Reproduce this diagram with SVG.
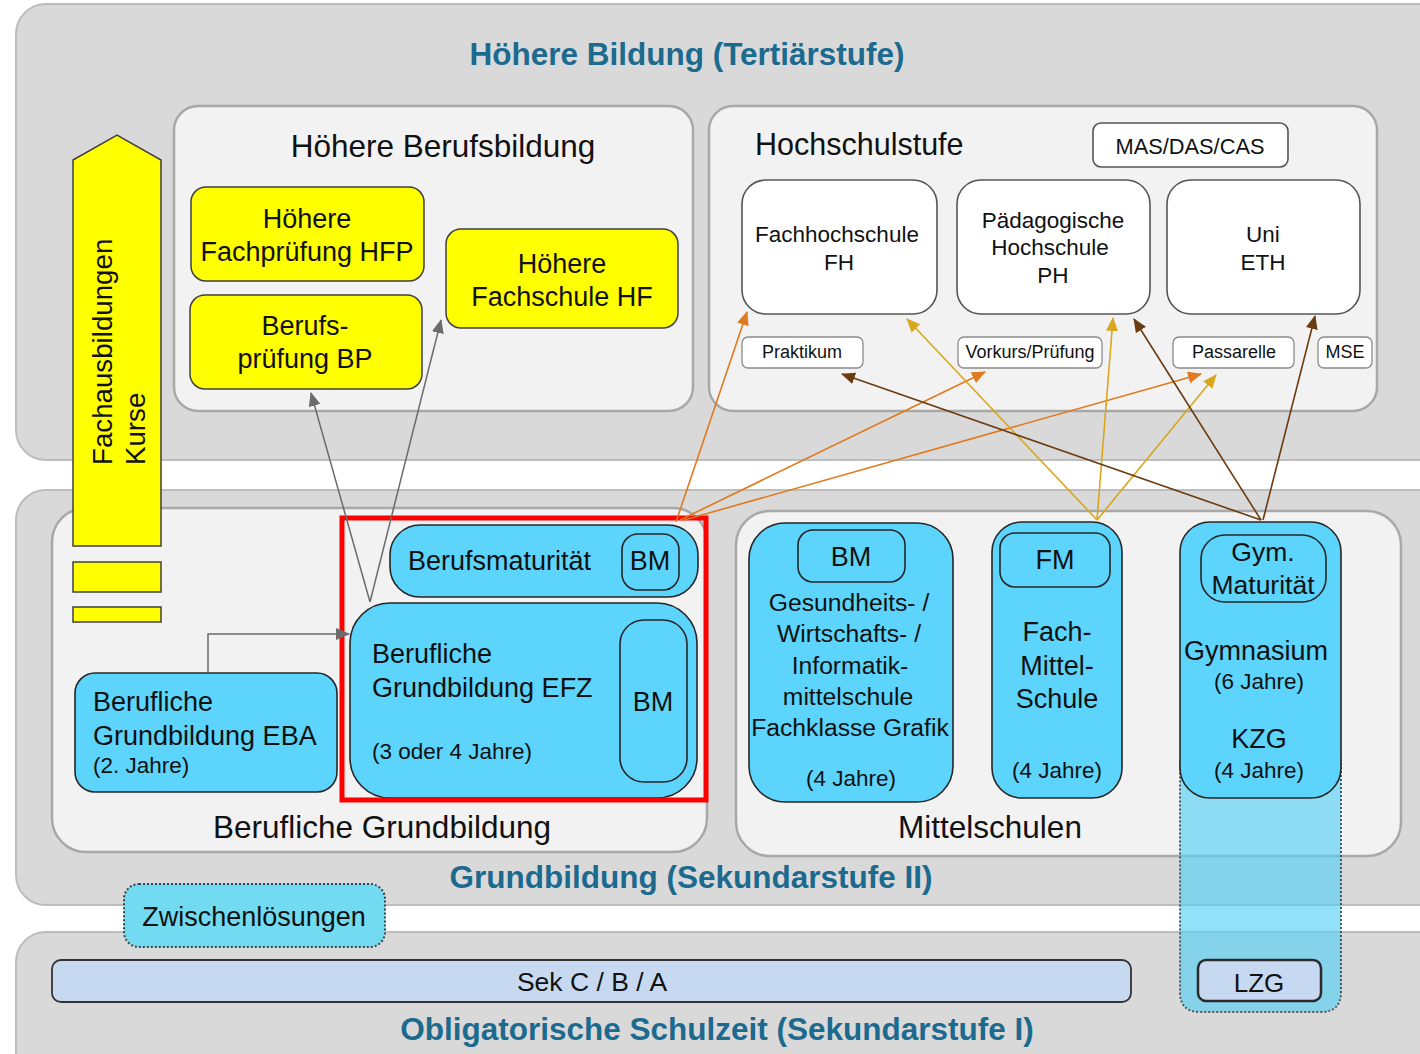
<svg xmlns="http://www.w3.org/2000/svg" width="1420" height="1054" viewBox="0 0 1420 1054">
<style>
text{font-family:"Liberation Sans",Arial,sans-serif;fill:#111}
.title{font-weight:bold;font-size:31.5px;fill:#1d6a8f;text-anchor:middle}
.c{text-anchor:middle}
.outer{fill:#d9d9d9;stroke:#bdbdbd;stroke-width:2}
.inner{fill:#f2f2f2;stroke:#a8a8a8;stroke-width:2.5}
.yel{fill:#ffff00;stroke:#404040;stroke-width:1.5}
.blue{fill:#5cd4fc;stroke:#262626;stroke-width:1.6}
.white{fill:#ffffff;stroke:#555;stroke-width:1.6}
.tag{fill:#ffffff;stroke:#8a8a8a;stroke-width:1.3}
.gray{fill:none;stroke:#6b6b6b;stroke-width:1.5}
.orange{fill:none;stroke:#e07a1f;stroke-width:1.6}
.gold{fill:none;stroke:#d9a61c;stroke-width:1.6}
.brown{fill:none;stroke:#6b3b12;stroke-width:1.6}
.f18{font-size:18px}
.f22{font-size:22.5px}
.f24{font-size:24.7px}
.f26{font-size:26.5px}
.f27{font-size:27px}
.f31{font-size:31.5px}
</style>
<defs>
<marker id="mg" viewBox="0 0 14 12" refX="13" refY="6" markerWidth="14" markerHeight="12" markerUnits="userSpaceOnUse" orient="auto"><path d="M0,0 L14,6 L0,12 z" fill="#6b6b6b"/></marker>
<marker id="mo" viewBox="0 0 14 12" refX="13" refY="6" markerWidth="14" markerHeight="12" markerUnits="userSpaceOnUse" orient="auto"><path d="M0,0 L14,6 L0,12 z" fill="#e07a1f"/></marker>
<marker id="my" viewBox="0 0 14 12" refX="13" refY="6" markerWidth="14" markerHeight="12" markerUnits="userSpaceOnUse" orient="auto"><path d="M0,0 L14,6 L0,12 z" fill="#d9a61c"/></marker>
<marker id="mb" viewBox="0 0 14 12" refX="13" refY="6" markerWidth="14" markerHeight="12" markerUnits="userSpaceOnUse" orient="auto"><path d="M0,0 L14,6 L0,12 z" fill="#6b3b12"/></marker>
</defs>
<rect width="1420" height="1054" fill="#ffffff"/>

<g id="tertiaer">
<rect class="outer" x="16" y="4" width="1440" height="456" rx="30"/>
<text class="title" x="687" y="65">Höhere Bildung (Tertiärstufe)</text>
</g>
<g id="sek2">
<rect class="outer" x="16" y="490" width="1440" height="415" rx="30"/>
<text class="title" x="691" y="888">Grundbildung (Sekundarstufe II)</text>
</g>
<g id="sek1">
<rect class="outer" x="16" y="932" width="1440" height="160" rx="30"/>
<text class="title" x="717" y="1040">Obligatorische Schulzeit (Sekundarstufe I)</text>
</g>

<g id="hoehere-berufsbildung">
<rect class="inner" x="174" y="106" width="519" height="305" rx="24"/>
<text class="c f31" x="443" y="157">Höhere Berufsbildung</text>
</g>
<g id="hochschulstufe">
<rect class="inner" x="709" y="106" width="668" height="305" rx="24"/>
<text x="755" y="155" style="font-size:30.5px">Hochschulstufe</text>
</g>
<g id="berufliche-grundbildung">
<rect class="inner" x="52" y="508" width="655" height="344" rx="34"/>
<text class="c f31" x="382" y="838">Berufliche Grundbildung</text>
</g>
<g id="mittelschulen">
<rect class="inner" x="736" y="511" width="665" height="345" rx="34"/>
<text class="c f31" x="990" y="838">Mittelschulen</text>
</g>

<g id="fachausbildungen">
<polygon class="yel" points="73,160 117,135 161,160 161,546 73,546"/>
<rect class="yel" x="73" y="562" width="88" height="30"/>
<rect class="yel" x="73" y="607" width="88" height="15"/>
<text transform="translate(112,465) rotate(-90)" style="font-size:27.7px">Fachausbildungen</text>
<text transform="translate(145,465) rotate(-90)" style="font-size:27.7px">Kurse</text>
</g>

<g id="hfp">
<rect class="yel" x="191" y="187" width="233" height="94" rx="15"/>
<text class="c f27" x="307" y="228">Höhere</text>
<text class="c f27" x="307" y="261">Fachprüfung HFP</text>
</g>
<g id="bp">
<rect class="yel" x="190" y="295" width="232" height="94" rx="15"/>
<text class="c f27" x="305" y="335">Berufs-</text>
<text class="c f27" x="305" y="368">prüfung BP</text>
</g>
<g id="hf">
<rect class="yel" x="446" y="229" width="232" height="99" rx="15"/>
<text class="c f27" x="562" y="273">Höhere</text>
<text class="c f27" x="562" y="306">Fachschule HF</text>
</g>

<g id="mas">
<rect class="white" x="1093" y="123" width="195" height="44" rx="8"/>
<text class="c" x="1190" y="154" style="font-size:21.8px">MAS/DAS/CAS</text>
</g>
<g id="fh">
<rect class="white" x="742" y="180" width="195" height="134" rx="24"/>
<text class="c f22" x="837" y="242">Fachhochschule</text>
<text class="c f22" x="839" y="270">FH</text>
</g>
<g id="ph">
<rect class="white" x="957" y="180" width="193" height="134" rx="24"/>
<text class="c f22" x="1053" y="228">Pädagogische</text>
<text class="c f22" x="1050" y="255">Hochschule</text>
<text class="c f22" x="1053" y="283">PH</text>
</g>
<g id="uni">
<rect class="white" x="1167" y="180" width="193" height="134" rx="24"/>
<text class="c f22" x="1263" y="242">Uni</text>
<text class="c f22" x="1263" y="270">ETH</text>
</g>
<g id="praktikum">
<rect class="tag" x="742" y="337" width="121" height="31" rx="6"/>
<text class="c f18" x="802" y="358">Praktikum</text>
</g>
<g id="vorkurs">
<rect class="tag" x="958" y="337" width="144" height="31" rx="6"/>
<text class="c f18" x="1030" y="358">Vorkurs/Prüfung</text>
</g>
<g id="passarelle">
<rect class="tag" x="1173" y="337" width="121" height="31" rx="6"/>
<text class="c f18" x="1234" y="358">Passarelle</text>
</g>
<g id="mse">
<rect class="tag" x="1318" y="337" width="54" height="31" rx="6"/>
<text class="c f18" x="1345" y="358">MSE</text>
</g>

<g id="gym-column">
<path d="M1180,760 H1341 V992 Q1341,1012 1321,1012 H1200 Q1180,1012 1180,992 Z" fill="#50cdf5" fill-opacity="0.62" stroke="#555" stroke-width="2" stroke-dasharray="2,2"/>
</g>

<g id="berufsmaturitaet">
<rect class="blue" x="390" y="525" width="308" height="72" rx="30"/>
<text class="f27" x="408" y="570">Berufsmaturität</text>
<rect class="blue" x="622" y="534" width="57" height="56" rx="16"/>
<text class="c f27" x="650" y="570">BM</text>
</g>
<g id="efz">
<rect class="blue" x="350" y="603" width="347" height="195" rx="40"/>
<text class="f27" x="372" y="663">Berufliche</text>
<text class="f27" x="372" y="697">Grundbildung EFZ</text>
<text class="f22" x="372" y="759">(3 oder 4 Jahre)</text>
<rect class="blue" x="620" y="620" width="67" height="162" rx="24"/>
<text class="c f27" x="653" y="711">BM</text>
</g>
<g id="eba">
<rect class="blue" x="75" y="673" width="262" height="119" rx="20"/>
<text class="f27" x="93" y="711">Berufliche</text>
<text class="f27" x="93" y="745">Grundbildung EBA</text>
<text class="f22" x="93" y="773">(2. Jahre)</text>
</g>
<g id="highlight">
<rect x="342" y="518" width="364" height="282" fill="none" stroke="#ff0000" stroke-width="5"/>
</g>

<g id="bm-schule">
<rect class="blue" x="749" y="523" width="204" height="279" rx="36"/>
<rect class="blue" x="798" y="530" width="107" height="52" rx="15"/>
<text class="c f27" x="851" y="566">BM</text>
<text class="c f24" x="849" y="611">Gesundheits- /</text>
<text class="c f24" x="849" y="642">Wirtschafts- /</text>
<text class="c f24" x="850" y="674">Informatik-</text>
<text class="c f24" x="848" y="705">mittelschule</text>
<text class="c f24" x="850" y="736">Fachklasse Grafik</text>
<text class="c f22" x="851" y="786">(4 Jahre)</text>
</g>
<g id="fms">
<rect class="blue" x="992" y="522" width="130" height="276" rx="30"/>
<rect class="blue" x="1000" y="533" width="110" height="54" rx="15"/>
<text class="c f27" x="1055" y="569">FM</text>
<text class="c f27" x="1057" y="641">Fach-</text>
<text class="c f27" x="1057" y="675">Mittel-</text>
<text class="c f27" x="1057" y="708">Schule</text>
<text class="c f22" x="1057" y="778">(4 Jahre)</text>
</g>
<g id="gymnasium">
<rect class="blue" x="1180" y="522" width="161" height="276" rx="30"/>
<rect class="blue" x="1201" y="535" width="125" height="67" rx="24"/>
<text class="c f26" x="1263" y="561">Gym.</text>
<text class="c f26" x="1263" y="594">Maturität</text>
<text class="c f27" x="1256" y="660">Gymnasium</text>
<text class="c f22" x="1259" y="689">(6 Jahre)</text>
<text class="c f27" x="1259" y="748">KZG</text>
<text class="c f22" x="1259" y="778">(4 Jahre)</text>
</g>

<g id="zwischenloesungen">
<rect x="124" y="884" width="261" height="63" rx="15" fill="#72dbf2" stroke="#444" stroke-width="2" stroke-dasharray="2,2"/>
<text class="c f27" x="254" y="926">Zwischenlösungen</text>
</g>
<g id="sek-cba">
<rect x="52" y="960" width="1079" height="42" rx="9" fill="#c6d9f1" stroke="#333" stroke-width="1.8"/>
<text class="c" x="592" y="991" style="font-size:26.5px">Sek C / B / A</text>
</g>
<g id="lzg">
<rect x="1198" y="960" width="123" height="41" rx="8" fill="#c6d9f1" stroke="#2a2a2a" stroke-width="2.5"/>
<text class="c" x="1259" y="992" style="font-size:26px">LZG</text>
</g>

<g id="connectors">
<path class="gray" d="M370,602 L311,393" marker-end="url(#mg)"/>
<path class="gray" d="M370,602 L441,320" marker-end="url(#mg)"/>
<path class="gray" d="M208,673 V634 H349" marker-end="url(#mg)"/>
<path class="orange" d="M676,522 L747,312" marker-end="url(#mo)"/>
<path class="orange" d="M680,520 L985,372" marker-end="url(#mo)"/>
<path class="orange" d="M684,520 L1201,374" marker-end="url(#mo)"/>
<path class="gold" d="M1097,520 L907,319" marker-end="url(#my)"/>
<path class="gold" d="M1097,520 L1113,318" marker-end="url(#my)"/>
<path class="gold" d="M1097,520 L1216,375" marker-end="url(#my)"/>
<path class="brown" d="M1261,520 L842,374" marker-end="url(#mb)"/>
<path class="brown" d="M1261,520 L1134,319" marker-end="url(#mb)"/>
<path class="brown" d="M1263,520 L1315,316" marker-end="url(#mb)"/>
</g>
</svg>
